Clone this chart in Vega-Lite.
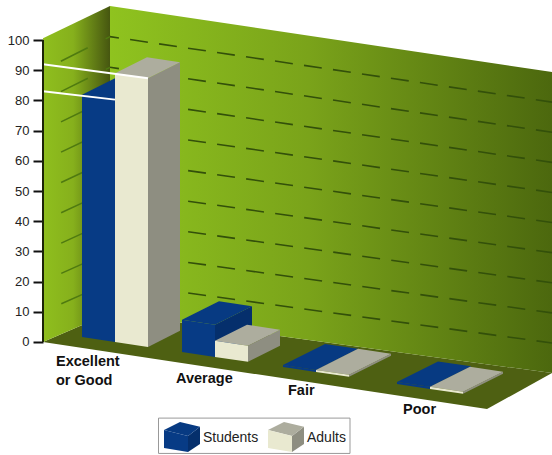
{
  "$schema": "https://vega.github.io/schema/vega-lite/v6.json",
  "width": 552,
  "height": 455,
  "padding": 0,
  "autosize": "none",
  "background": "white",
  "config": {"view": {"stroke": null}},
  "datasets": {
    "bars": [
      {"category": "Excellent or Good", "series": "Students", "value": 83},
      {"category": "Excellent or Good", "series": "Adults", "value": 92},
      {"category": "Average", "series": "Students", "value": 11},
      {"category": "Average", "series": "Adults", "value": 5.5},
      {"category": "Fair", "series": "Students", "value": 0.7},
      {"category": "Fair", "series": "Adults", "value": 0.7},
      {"category": "Poor", "series": "Students", "value": 0.7},
      {"category": "Poor", "series": "Adults", "value": 0.7}
    ],
    "room": [
      {"surface": "left", "corner": 0, "across": 43, "height": 0},
      {"surface": "left", "corner": 1, "across": 110, "height": 9.6},
      {"surface": "left", "corner": 2, "across": 110, "height": 111.3},
      {"surface": "left", "corner": 3, "across": 43, "height": 100.6},
      {"surface": "back", "corner": 0, "across": 110, "height": 9.6},
      {"surface": "back", "corner": 1, "across": 552, "height": -10.3},
      {"surface": "back", "corner": 2, "across": 552, "height": 89.4},
      {"surface": "back", "corner": 3, "across": 110, "height": 111.3},
      {"surface": "floor", "corner": 0, "across": 43, "height": 0},
      {"surface": "floor", "corner": 1, "across": 110, "height": 9.6},
      {"surface": "floor", "corner": 2, "across": 552, "height": -10.3},
      {"surface": "floor", "corner": 3, "across": 487, "height": -22.2}
    ],
    "levels": [
      {"level": 10}, {"level": 20}, {"level": 30}, {"level": 40}, {"level": 50},
      {"level": 60}, {"level": 70}, {"level": 80}, {"level": 90}
    ],
    "series": [{"series": "Students"}, {"series": "Adults"}],
    "categories": [
      {"category": "Excellent or Good"},
      {"category": "Average"},
      {"category": "Fair"},
      {"category": "Poor"}
    ]
  },
  "encoding": {
    "x": {"field": "across", "type": "quantitative", "scale": {"domain": [0, 552]}, "axis": null},
    "y": {
      "field": "height",
      "type": "quantitative",
      "scale": {"domain": [-37.42, 113.25], "nice": false, "zero": false},
      "axis": {
        "values": [0, 10, 20, 30, 40, 50, 60, 70, 80, 90, 100],
        "title": null,
        "offset": -43,
        "domain": false,
        "grid": false,
        "tickSize": 10,
        "tickWidth": 2,
        "tickColor": "#111111",
        "labelPadding": 4,
        "labelFont": "Liberation Sans",
        "labelFontSize": 13,
        "labelColor": "#222222"
      }
    }
  },
  "layer": [
    {
      "data": {"name": "room"},
      "transform": [{"filter": "datum.surface === 'floor'"}],
      "mark": {"type": "line", "fill": "#4e6012", "strokeWidth": 0},
      "encoding": {"order": {"field": "corner"}}
    },
    {
      "data": {"name": "room"},
      "transform": [{"filter": "datum.surface === 'left'"}],
      "mark": {
        "type": "line",
        "strokeWidth": 0,
        "fill": {
          "gradient": "linear", "x1": 0, "y1": 0, "x2": 1, "y2": 0,
          "stops": [
            {"offset": 0, "color": "#8fbf1e"},
            {"offset": 0.45, "color": "#86b01c"},
            {"offset": 1, "color": "#465610"}
          ]
        }
      },
      "encoding": {"order": {"field": "corner"}}
    },
    {
      "data": {"name": "room"},
      "transform": [{"filter": "datum.surface === 'back'"}],
      "mark": {
        "type": "line",
        "strokeWidth": 0,
        "fill": {
          "gradient": "linear", "x1": 0, "y1": 0, "x2": 1, "y2": 0,
          "stops": [
            {"offset": 0, "color": "#8fc31f"},
            {"offset": 0.45, "color": "#7aa31a"},
            {"offset": 1, "color": "#4c680e"}
          ]
        }
      },
      "encoding": {"order": {"field": "corner"}}
    },
    {
      "data": {"name": "levels"},
      "transform": [
        {"calculate": "[0, 1]", "as": "end"},
        {"flatten": ["end"]},
        {"calculate": "datum.end === 0 ? 43 : 110", "as": "across"},
        {"calculate": "datum.end === 0 ? datum.level : 9.6 + datum.level * 1.017", "as": "height"}
      ],
      "mark": {"type": "line", "stroke": "#4f7a10", "strokeWidth": 1.5, "strokeDash": [30, 20], "strokeDashOffset": 30},
      "encoding": {"detail": {"field": "level"}, "order": {"field": "end"}}
    },
    {
      "data": {"name": "levels"},
      "transform": [
        {"calculate": "[0, 1]", "as": "end"},
        {"flatten": ["end"]},
        {"calculate": "datum.end === 0 ? 110 : 552", "as": "across"},
        {"calculate": "datum.end === 0 ? 9.6 + datum.level * 1.017 : -10.3 + datum.level * 0.997", "as": "height"}
      ],
      "mark": {"type": "line", "stroke": "#33500a", "strokeWidth": 1.6, "strokeDash": [18, 11.3], "strokeDashOffset": 9},
      "encoding": {"detail": {"field": "level"}, "order": {"field": "end"}}
    },
    {
      "data": {"name": "bars"},
      "transform": [
        {"calculate": "indexof(['Excellent or Good', 'Average', 'Fair', 'Poor'], datum.category)", "as": "slot"},
        {"calculate": "[82, 182, 283, 397][datum.slot] + (datum.series === 'Adults' ? 33 : 0)", "as": "x0"},
        {"calculate": "datum.x0 + 33", "as": "x1"},
        {"calculate": "(datum.series === 'Adults' ? [32, 32, 42, 40] : [33, 37, 42, 41])[datum.slot]", "as": "dx"},
        {"calculate": "-0.0493 * (datum.x0 - 115)", "as": "b0"},
        {"calculate": "datum.b0 - 0.0493 * 33", "as": "b1"},
        {"calculate": "0.166 * datum.dx", "as": "dv"},
        {"calculate": "datum.value * 0.967", "as": "h"},
        {"calculate": "['side', 'top', 'front']", "as": "face"},
        {"flatten": ["face"]},
        {"calculate": "[0, 1, 2, 3]", "as": "corner"},
        {"flatten": ["corner"]},
        {"calculate": "{front: [datum.x0, datum.x1, datum.x1, datum.x0], top: [datum.x0, datum.x1, datum.x1 + datum.dx, datum.x0 + datum.dx], side: [datum.x1, datum.x1 + datum.dx, datum.x1 + datum.dx, datum.x1]}[datum.face][datum.corner]", "as": "across"},
        {"calculate": "{front: [datum.b0, datum.b1, datum.b1 + datum.h, datum.b0 + datum.h], top: [datum.b0 + datum.h, datum.b1 + datum.h, datum.b1 + datum.h + datum.dv, datum.b0 + datum.h + datum.dv], side: [datum.b1, datum.b1 + datum.dv, datum.b1 + datum.dv + datum.h, datum.b1 + datum.h]}[datum.face][datum.corner]", "as": "height"},
        {"calculate": "datum.series + ' ' + datum.face", "as": "paint"},
        {"calculate": "datum.category + ' ' + datum.paint", "as": "polygon"}
      ],
      "layer": [
        {
          "transform": [{"filter": "datum.series === 'Students'"}],
          "mark": {"type": "line", "strokeWidth": 0},
          "encoding": {
            "fill": {"field": "paint", "legend": null, "scale": {"domain": ["Students front", "Students top", "Students side", "Adults front", "Adults top", "Adults side"], "range": ["#073b85", "#073a82", "#052f6c", "#e9e9d0", "#adad9e", "#8e8e81"]}},
            "detail": {"field": "polygon"},
            "order": {"field": "corner"}
          }
        },
        {
          "transform": [{"filter": "datum.series === 'Adults'"}],
          "mark": {"type": "line", "strokeWidth": 0},
          "encoding": {
            "fill": {"field": "paint", "legend": null},
            "detail": {"field": "polygon"},
            "order": {"field": "corner"}
          }
        },
        {
          "transform": [
            {"filter": "datum.category === 'Excellent or Good' && datum.face === 'front' && datum.corner < 2"},
            {"calculate": "datum.corner === 0 ? 43 : datum.x1", "as": "across"},
            {"calculate": "datum.corner === 0 ? datum.value : datum.b1 + datum.h", "as": "height"}
          ],
          "mark": {"type": "line", "stroke": "#ffffff", "strokeWidth": 2},
          "encoding": {"detail": {"field": "series"}, "order": {"field": "corner"}}
        }
      ]
    },
    {
      "data": {"name": "room"},
      "transform": [
        {"filter": "datum.surface === 'left' && (datum.corner === 0 || datum.corner === 3)"},
        {"calculate": "datum.corner === 0 ? 0 : 100", "as": "height"}
      ],
      "mark": {"type": "line", "stroke": "#1c2408", "strokeWidth": 2},
      "encoding": {"order": {"field": "height"}}
    },
    {
      "data": {"name": "categories"},
      "transform": [
        {"calculate": "indexof(['Excellent or Good', 'Average', 'Fair', 'Poor'], datum.category)", "as": "slot"},
        {"calculate": "[56, 176, 288, 403][datum.slot]", "as": "across"},
        {"calculate": "[-4.3, -10, -14, -20.3][datum.slot]", "as": "height"},
        {"calculate": "datum.slot === 0 ? ['Excellent', 'or Good'] : datum.category", "as": "label"}
      ],
      "mark": {"type": "text", "align": "left", "baseline": "top", "font": "Liberation Sans", "fontWeight": "bold", "fontSize": 14.5, "lineHeight": 19, "color": "#111111"},
      "encoding": {"text": {"field": "label"}}
    },
    {
      "data": {"values": [{"box": "legend"}]},
      "transform": [
        {"calculate": "158.5", "as": "across"},
        {"calculate": "350", "as": "acrossEnd"},
        {"calculate": "-25.2", "as": "height"},
        {"calculate": "-36.9", "as": "heightEnd"}
      ],
      "mark": {"type": "rect", "fill": "#ffffff", "stroke": "#999999", "strokeWidth": 1},
      "encoding": {
        "x2": {"field": "acrossEnd"},
        "y2": {"field": "heightEnd"}
      }
    },
    {
      "data": {"name": "series"},
      "transform": [
        {"calculate": "datum.series === 'Students' ? 164 : 268", "as": "left"},
        {"calculate": "['side', 'top', 'front']", "as": "face"},
        {"flatten": ["face"]},
        {"calculate": "[0, 1, 2, 3]", "as": "corner"},
        {"flatten": ["corner"]},
        {"calculate": "datum.left + {front: [0, 24, 24, 0], top: [0, 16, 36, 24], side: [24, 36, 36, 24]}[datum.face][datum.corner]", "as": "across"},
        {"calculate": "{front: [-29.1, -31.1, -36.4, -35.1], top: [-29.1, -26.5, -28.1, -31.1], side: [-31.1, -28.1, -33.8, -36.4]}[datum.face][datum.corner]", "as": "height"},
        {"calculate": "datum.series + ' ' + datum.face", "as": "paint"}
      ],
      "mark": {"type": "line", "strokeWidth": 0},
      "encoding": {
        "fill": {"field": "paint", "legend": null},
        "detail": {"field": "paint"},
        "order": {"field": "corner"}
      }
    },
    {
      "data": {"name": "series"},
      "transform": [
        {"calculate": "datum.series === 'Students' ? 203 : 307", "as": "across"},
        {"calculate": "-31.8", "as": "height"}
      ],
      "mark": {"type": "text", "align": "left", "baseline": "middle", "font": "Liberation Sans", "fontSize": 14, "color": "#222222"},
      "encoding": {"text": {"field": "series"}}
    }
  ]
}
